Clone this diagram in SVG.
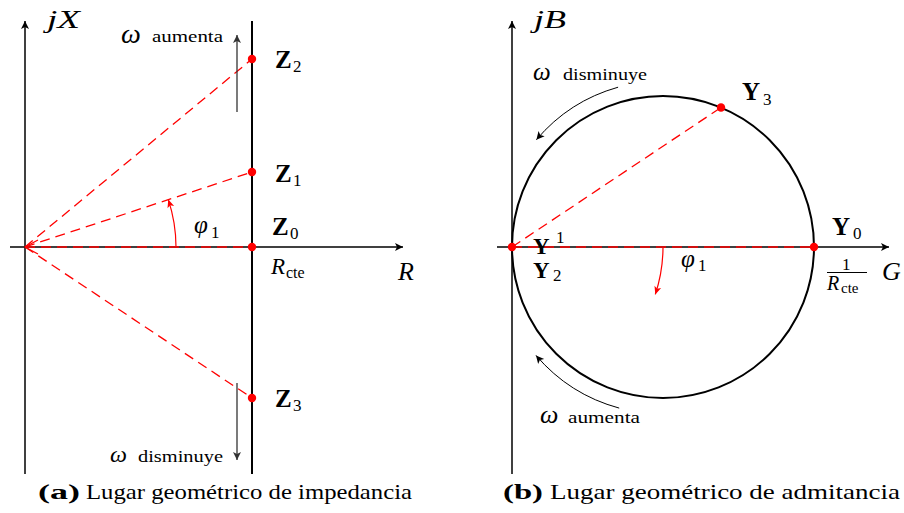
<svg xmlns="http://www.w3.org/2000/svg" width="904" height="513" viewBox="0 0 904 513" font-family="'Liberation Serif','DejaVu Serif',serif">
<style>
text{font-family:"Liberation Serif","DejaVu Serif",serif;fill:#000}
.b{font-weight:bold;font-size:25px}
.sub{font-size:17px}
.it{font-style:italic;font-size:26px}
.om{font-style:italic;font-size:28px}
.sm{font-size:16px}
.cap{font-size:22px}
.ax{stroke:#000;stroke-width:1.5;fill:none}
.thick{stroke:#000;stroke-width:2;fill:none}
.rd{stroke:#f00;stroke-width:1.3;fill:none;stroke-dasharray:10 6}
.ra{stroke:#f00;stroke-width:1.2;fill:none}
.ka{stroke:#000;stroke-width:1;fill:none}
.ga{stroke:#333;stroke-width:1.3;fill:none}
.dot{fill:#f00}
</style>
<defs>
<marker id="ak" markerUnits="userSpaceOnUse" markerWidth="12" markerHeight="10" refX="9" refY="5" orient="auto" viewBox="0 0 12 10"><path d="M1,1 L9,5 L1,9 L3,5 z" fill="#000"/></marker>
<marker id="ag" markerUnits="userSpaceOnUse" markerWidth="12" markerHeight="10" refX="9" refY="5" orient="auto" viewBox="0 0 12 10"><path d="M1,1 L9,5 L1,9 L3,5 z" fill="#333"/></marker>
<marker id="ar" markerUnits="userSpaceOnUse" markerWidth="12" markerHeight="10" refX="9" refY="5" orient="auto" viewBox="0 0 12 10"><path d="M1,1.5 L9,5 L1,8.5 L3,5 z" fill="#f00"/></marker>
</defs>

<g id="connectors">
<line class="ax" x1="25" y1="474" x2="25" y2="21" marker-end="url(#ak)"/>
<line class="ax" x1="10" y1="247" x2="403" y2="247" marker-end="url(#ak)"/>
<line class="thick" x1="252" y1="21" x2="252" y2="474"/>
<line class="rd" x1="25" y1="247" x2="252" y2="59"/>
<line class="rd" x1="25" y1="247" x2="252" y2="172"/>
<line class="rd" x1="25" y1="247" x2="252" y2="247"/>
<line class="rd" x1="25" y1="247" x2="252" y2="398"/>
<polyline class="ra" points="38,240 25,247 38,254"/>
<path class="ra" d="M176,247 A151,151 0 0 0 168.3,199.6" marker-end="url(#ar)"/>
<line class="ga" x1="237" y1="112" x2="237" y2="35" marker-end="url(#ag)"/>
<line class="ga" x1="237" y1="383" x2="237" y2="460" marker-end="url(#ag)"/>

<line class="ax" x1="512" y1="474" x2="512" y2="21" marker-end="url(#ak)"/>
<line class="ax" x1="497" y1="247" x2="889" y2="247" marker-end="url(#ak)"/>
<circle class="thick" cx="663" cy="247" r="151"/>
<line class="rd" x1="512" y1="247" x2="721" y2="107.5"/>
<line class="rd" x1="512" y1="247" x2="814" y2="247"/>
<path class="ra" d="M663,247 A151,151 0 0 1 655.3,294.4" marker-end="url(#ar)"/>
<path class="ka" d="M618.1,87.2 A166,166 0 0 0 536.4,139.7" marker-end="url(#ak)"/>
<path class="ka" d="M619.2,408.1 A167,167 0 0 1 536,355.4" marker-end="url(#ak)"/>
</g>

<g id="Z2"><circle class="dot" cx="252" cy="59" r="4.2"/><text class="b" x="275" y="68">Z</text><text class="sub" x="293" y="72">2</text></g>
<g id="Z1"><circle class="dot" cx="252" cy="172" r="4.2"/><text class="b" x="275" y="182">Z</text><text class="sub" x="293" y="186">1</text></g>
<g id="Z0"><circle class="dot" cx="252" cy="247" r="4.2"/><text class="b" x="272" y="235">Z</text><text class="sub" x="290" y="239">0</text></g>
<g id="Z3"><circle class="dot" cx="252" cy="398" r="4.2"/><text class="b" x="275" y="407">Z</text><text class="sub" x="293" y="411">3</text></g>

<g id="labels-left">
<text class="it" x="47" y="28" textLength="33" lengthAdjust="spacingAndGlyphs">jX</text>
<text class="it" x="398" y="280">R</text>
<text class="it" x="271" y="274" style="font-size:23px">R</text><text class="sub" x="286" y="278" style="font-size:16px">cte</text>
<text class="it" x="194" y="233" style="font-size:25px">φ</text><text class="sub" x="211" y="238">1</text>
<text class="om" x="121" y="43">ω</text><text class="sm" x="152" y="42" textLength="71" lengthAdjust="spacingAndGlyphs">aumenta</text>
<text class="om" x="110" y="462" style="font-size:24px">ω</text><text class="sm" x="138" y="462" textLength="85" lengthAdjust="spacingAndGlyphs">disminuye</text>
</g>

<g id="Y0"><circle class="dot" cx="814" cy="247" r="4.2"/><text class="b" x="832" y="235">Y</text><text class="sub" x="853" y="239">0</text></g>
<g id="Y1Y2"><circle class="dot" cx="512" cy="247" r="4.2"/><text class="b" x="533" y="254" style="font-size:23px">Y</text><text class="sub" x="556" y="243">1</text><text class="b" x="533" y="278" style="font-size:23px">Y</text><text class="sub" x="553" y="281">2</text></g>
<g id="Y3"><circle class="dot" cx="721" cy="107.5" r="4.2"/><text class="b" x="742" y="100">Y</text><text class="sub" x="763" y="105">3</text></g>

<g id="labels-right">
<text class="it" x="534" y="28" textLength="32" lengthAdjust="spacingAndGlyphs">jB</text>
<text class="it" x="882" y="280">G</text>
<text class="sub" x="842" y="270">1</text>
<line x1="827" y1="272.5" x2="867" y2="272.5" stroke="#000" stroke-width="1"/>
<text class="it" x="827" y="290" style="font-size:20px">R</text><text class="sub" x="841" y="293" style="font-size:15px">cte</text>
<text class="it" x="681" y="267" style="font-size:25px">φ</text><text class="sub" x="698" y="271">1</text>
<text class="om" x="533" y="80" style="font-size:25px">ω</text><text class="sm" x="563" y="80" textLength="84" lengthAdjust="spacingAndGlyphs">disminuye</text>
<text class="om" x="540" y="423" style="font-size:26px">ω</text><text class="sm" x="568" y="423" textLength="72" lengthAdjust="spacingAndGlyphs">aumenta</text>
</g>

<g id="captions">
<text class="cap" x="38" y="499" font-weight="bold" textLength="42" lengthAdjust="spacingAndGlyphs">(a)</text>
<text class="cap" x="86" y="499" textLength="326" lengthAdjust="spacingAndGlyphs">Lugar geométrico de impedancia</text>
<text class="cap" x="503" y="499" font-weight="bold" textLength="40" lengthAdjust="spacingAndGlyphs">(b)</text>
<text class="cap" x="550" y="499" textLength="350" lengthAdjust="spacingAndGlyphs">Lugar geométrico de admitancia</text>
</g>
</svg>
